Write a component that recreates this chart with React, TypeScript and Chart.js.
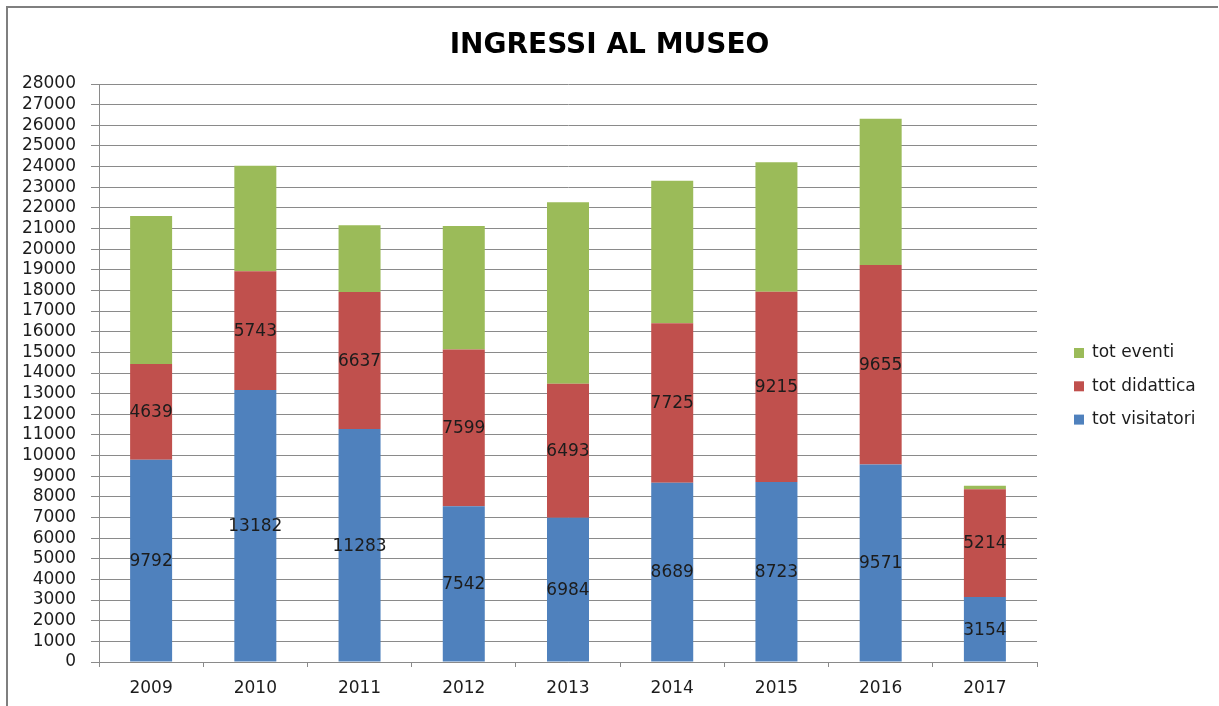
import React, { useEffect, useRef } from "react";
import { Chart, registerables } from "chart.js";

Chart.register(...registerables);

const years = ["2009", "2010", "2011", "2012", "2013", "2014", "2015", "2016", "2017"];
const totVisitatori = [9792, 13182, 11283, 7542, 6984, 8689, 8723, 9571, 3154];
const totDidattica = [4639, 5743, 6637, 7599, 6493, 7725, 9215, 9655, 5214];
const totEventi = [7175, 5117, 3235, 5980, 8793, 6903, 6276, 7094, 170];
const seriesNames = ["tot visitatori", "tot didattica", "tot eventi"];
const seriesColors = ["#4F81BD", "#C0504D", "#9BBB59"];
const titleText = "INGRESSI AL MUSEO";
const yMax = 28000;
const yStep = 1000;

const FONT = "'DejaVu Sans', sans-serif";
const TEXT = "#1c1c1c";
const GRID = "#8a8a8a";

const framePlugin = {
  id: "frame",
  beforeDraw(chart: any) {
    const ctx = chart.ctx;
    ctx.save();
    ctx.fillStyle = "#ffffff";
    ctx.fillRect(0, 0, chart.width, chart.height);
    ctx.strokeStyle = "#7f7f7f";
    ctx.lineWidth = 2;
    ctx.beginPath();
    ctx.moveTo(7, chart.height);
    ctx.lineTo(7, 7);
    ctx.lineTo(chart.width - 1, 7);
    ctx.stroke();
    ctx.restore();
  },
};

const titlePlugin = {
  id: "customTitle",
  afterDraw(chart: any) {
    const ctx = chart.ctx;
    ctx.save();
    ctx.font = `bold 28px ${FONT}`;
    ctx.fillStyle = "#000000";
    ctx.textAlign = "center";
    ctx.textBaseline = "alphabetic";
    ctx.fillText(titleText, chart.width / 2, 53);
    ctx.restore();
  },
};

const valueLabelPlugin = {
  id: "valueLabels",
  afterDatasetsDraw(chart: any) {
    const ctx = chart.ctx;
    ctx.save();
    ctx.font = `17px ${FONT}`;
    ctx.fillStyle = TEXT;
    ctx.textAlign = "center";
    ctx.textBaseline = "middle";
    [0, 1].forEach((di) => {
      const meta = chart.getDatasetMeta(di);
      const data = chart.data.datasets[di].data as number[];
      meta.data.forEach((el: any, i: number) => {
        const y = (el.y + el.base) / 2;
        ctx.fillText(String(data[i]), el.x, y + 1);
      });
    });
    ctx.restore();
  },
};

const legendPlugin = {
  id: "customLegend",
  afterDraw(chart: any) {
    const ctx = chart.ctx;
    ctx.save();
    ctx.font = `17px ${FONT}`;
    ctx.textAlign = "left";
    ctx.textBaseline = "middle";
    const order = [2, 1, 0];
    order.forEach((si, row) => {
      const cy = 353 + row * 33.3;
      ctx.fillStyle = seriesColors[si];
      ctx.fillRect(1074, cy - 5, 10, 10);
      ctx.fillStyle = TEXT;
      ctx.fillText(seriesNames[si], 1092, cy);
    });
    ctx.restore();
  },
};

export default function App() {
  const ref = useRef<HTMLCanvasElement | null>(null);

  useEffect(() => {
    if (!ref.current) return;
    const values = [totVisitatori, totDidattica, totEventi];
    const chart = new Chart(ref.current, {
      type: "bar",
      data: {
        labels: years,
        datasets: values.map((v, i) => ({
          label: seriesNames[i],
          data: v,
          backgroundColor: seriesColors[i],
          borderWidth: 0,
          barPercentage: 0.403,
          categoryPercentage: 1,
        })),
      },
      options: {
        responsive: false,
        animation: false,
        layout: { padding: { left: 0, top: 84, right: 182, bottom: 0 } },
        plugins: {
          legend: { display: false },
          title: { display: false },
          tooltip: { enabled: false },
        },
        scales: {
          x: {
            stacked: true,
            offset: true,
            grid: {
              offset: true,
              drawOnChartArea: false,
              drawTicks: true,
              tickLength: 5,
              color: GRID,
            },
            border: { color: GRID, width: 1 },
            ticks: {
              font: { family: FONT, size: 17 },
              color: TEXT,
              padding: 11,
              maxRotation: 0,
            },
            afterFit: (scale: any) => {
              scale.height = 44;
            },
          },
          y: {
            stacked: true,
            min: 0,
            max: yMax,
            grid: { color: GRID, tickLength: 8, drawTicks: true },
            border: { color: GRID, width: 1 },
            ticks: {
              stepSize: yStep,
              font: { family: FONT, size: 17 },
              color: TEXT,
              padding: 15,
              autoSkip: false,
              callback: (v: any) => String(v),
            },
            afterFit: (scale: any) => {
              scale.width = 99;
            },
          },
        },
      },
      plugins: [framePlugin, titlePlugin, valueLabelPlugin, legendPlugin],
    });
    return () => chart.destroy();
  }, []);

  return (
    <div style={{ position: "absolute", left: 0, top: 0, width: 1219, height: 706 }}>
      <canvas ref={ref} width={1219} height={706} style={{ display: "block" }} />
    </div>
  );
}
